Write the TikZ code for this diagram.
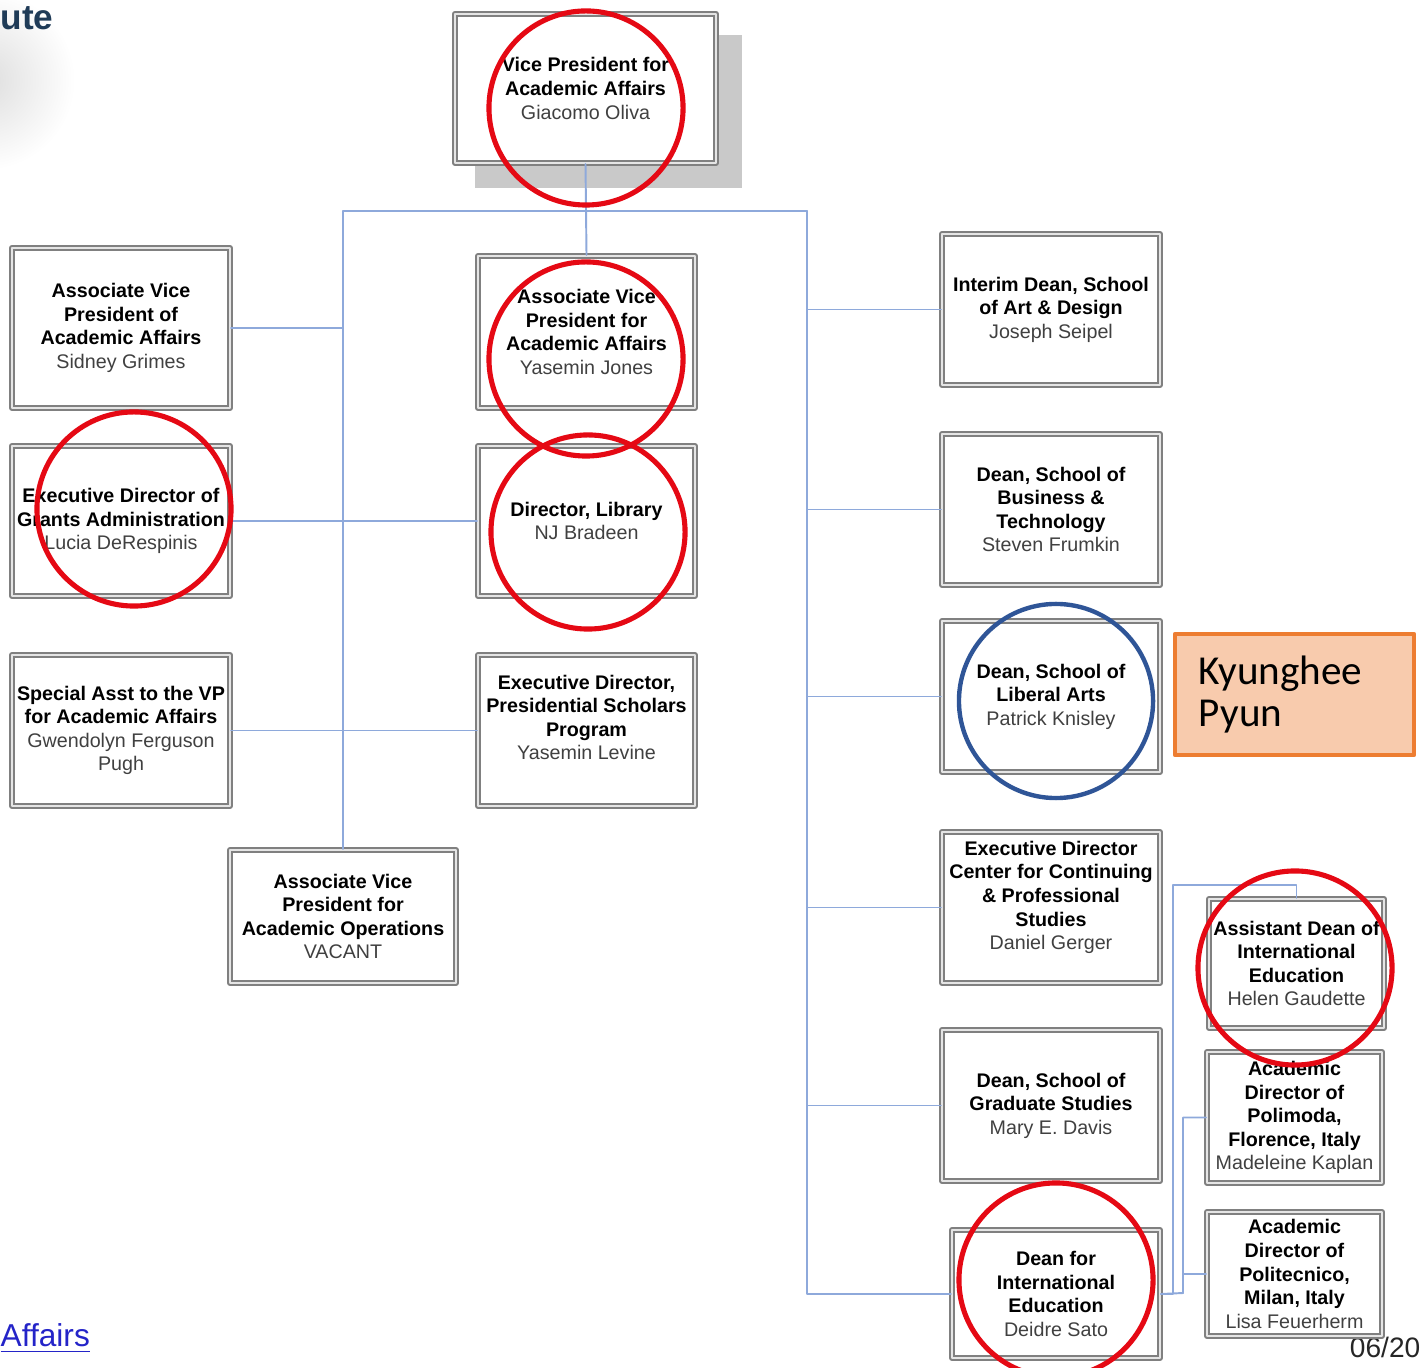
\documentclass[tikz,border=0pt]{standalone}
\usepackage{fontspec}
\setmainfont{Liberation Sans}
\newfontfamily\calloutfont{Carlito}
\definecolor{linkblue}{HTML}{8EA9DB}
\definecolor{ringred}{HTML}{E50914}
\definecolor{ringblue}{HTML}{2F5597}
\definecolor{noteline}{HTML}{ED7D31}
\definecolor{notefill}{HTML}{F8CBAD}
\definecolor{boxgray}{HTML}{808080}
\definecolor{namegray}{HTML}{404040}
\definecolor{shadowgray}{HTML}{C9C9C9}
\definecolor{webblue}{HTML}{2424C8}
\definecolor{titleslate}{HTML}{1F3B57}
\newcommand\pname[1]{{\mdseries\color{namegray}#1}}

\begin{document}
\begin{tikzpicture}[x=0.01cm,y=-0.01cm,line cap=round,line join=round,
  post/.style={draw=boxgray,double=white!80!gray,double distance=0.6pt,line width=0.55pt,
    fill=white,inner sep=0pt,align=center,font=\fontsize{5.6}{6.7}\selectfont\bfseries},
  link/.style={draw=linkblue,line width=0.55pt},
  ring/.style={draw=ringred,line width=1.45pt},
  bluering/.style={draw=ringblue,line width=1.25pt}]
\useasboundingbox (0,0) rectangle (1422,1368);
\clip (0,0) rectangle (1422,1368);

% page leftovers
\shade[inner color=black!13,outer color=white] (-15,80) circle [radius=0.9cm];
\node[anchor=north west,inner sep=0pt,text=titleslate,font=\bfseries\fontsize{10}{12}\selectfont] (ute) at (0,6) {ute};
\node[anchor=base west,inner sep=0pt,text=webblue,font=\fontsize{9}{10}\selectfont] (affairs) at (0,1346) {\underline{Affairs}};
\node[anchor=base east,inner sep=0pt,text=black!85,font=\fontsize{8}{9}\selectfont] (date) at (1421,1357) {06/20};

% top
\fill[shadowgray] (475,35) rectangle (742,188);
\node[post,minimum width=2.61cm,minimum height=1.49cm] (vp) at (585.5,88.5) {Vice President for\\Academic Affairs\\\pname{Giacomo Oliva}};

% left column
\node[post,minimum width=2.18cm,minimum height=1.60cm] (avpg) at (121,328) {Associate Vice\\President of\\Academic Affairs\\\pname{Sidney Grimes}};
\node[post,minimum width=2.18cm,minimum height=1.50cm] (grants) at (121,521) {Executive Director of\\Grants Administration\\\pname{Lucia DeRespinis}};
\node[post,minimum width=2.18cm,minimum height=1.51cm] (spec) at (121,730.5) {Special Asst to the VP\\for Academic Affairs\\\pname{Gwendolyn Ferguson}\\\pname{Pugh}};
\node[post,minimum width=2.26cm,minimum height=1.33cm] (avpo) at (343,916.5) {Associate Vice\\President for\\Academic Operations\\\pname{VACANT}};

% middle column
\node[post,minimum width=2.17cm,minimum height=1.52cm] (avpj) at (586.5,332) {Associate Vice\\President for\\Academic Affairs\\\pname{Yasemin Jones}};
\node[post,minimum width=2.17cm,minimum height=1.50cm] (lib) at (586.5,521) {Director, Library\\\pname{NJ Bradeen}};
\node[post,minimum width=2.17cm,minimum height=1.51cm,text depth=7.4pt] (pres) at (586.5,730.5) {Executive Director,\\Presidential Scholars\\Program\\\pname{Yasemin Levine}};

% right column
\node[post,minimum width=2.18cm,minimum height=1.51cm] (art) at (1051,309.5) {Interim Dean, School\\of Art \& Design\\\pname{Joseph Seipel}};
\node[post,minimum width=2.18cm,minimum height=1.51cm] (busi) at (1051,509.5) {Dean, School of\\Business \&\\Technology\\\pname{Steven Frumkin}};
\node[post,minimum width=2.18cm,minimum height=1.51cm] (libarts) at (1051,696.5) {Dean, School of\\Liberal Arts\\\pname{Patrick Knisley}};
\node[post,minimum width=2.18cm,minimum height=1.51cm,text depth=6.9pt] (cps) at (1051,907.5) {Executive Director\\Center for Continuing\\\& Professional\\Studies\\\pname{Daniel Gerger}};
\node[post,minimum width=2.18cm,minimum height=1.51cm] (grad) at (1051,1105.5) {Dean, School of\\Graduate Studies\\\pname{Mary E. Davis}};
\node[post,minimum width=2.08cm,minimum height=1.28cm] (dintl) at (1056,1294) {Dean for\\International\\Education\\\pname{Deidre Sato}};

% international
\node[post,minimum width=1.75cm,minimum height=1.29cm] (asst) at (1296.5,963.5) {Assistant Dean of\\International\\Education\\\pname{Helen Gaudette}};
\node[post,minimum width=1.75cm,minimum height=1.31cm] (polim) at (1294.5,1117.5) {Academic\\Director of\\Polimoda,\\Florence, Italy\\\pname{Madeleine Kaplan}};
\node[post,minimum width=1.75cm,minimum height=1.24cm] (polit) at (1294.5,1274) {Academic\\Director of\\Politecnico,\\Milan, Italy\\\pname{Lisa Feuerherm}};

% connectors
\coordinate (busL) at (343,211);
\coordinate (busR) at (807,211);
\coordinate (jogA) at (1173,885);
\coordinate (jogB) at (1183,1293);
\draw[link] (vp.south) -- (avpj.north);
\draw[link] (busL) -- (busR);
\draw[link] (busL) -- (avpo.north);
\draw[link] (busR) -- (busR |- dintl.west) -- (dintl.west);
\draw[link] (avpg.east) -- (avpg.east -| busL);
\draw[link] (grants.east) -- (lib.west);
\draw[link] (spec.east) -- (pres.west);
\foreach \n in {art,busi,libarts,cps,grad}
  \draw[link] (busR |- \n.west) -- (\n.west);
\draw[link] (dintl.east) -| (jogA) -| (asst.north);
\draw[link] (dintl.east) -- (jogB) |- (polim.west);
\draw[link] (jogB) |- (polit.west);

% marks
\draw[ring] (586,108) circle [radius=0.97cm];
\draw[ring] (586,359) circle [radius=0.97cm];
\draw[ring] (588,532) circle [radius=0.97cm];
\draw[ring] (134,509) circle [radius=0.97cm];
\draw[ring] (1295,968) circle [radius=0.97cm];
\draw[ring] (1056,1280) circle [radius=0.97cm];
\draw[bluering] (1056,701) circle [radius=0.97cm];

% callout
\node[draw=noteline,fill=notefill,line width=1.2pt,minimum width=2.39cm,minimum height=1.21cm,
  inner xsep=0.22cm,inner ysep=0pt,text width=1.91cm,align=left,
  font=\calloutfont\fontsize{11.7}{12.2}\selectfont] (kp) at (1294.5,694.5) {Kyunghee\\Pyun};
\end{tikzpicture}
\end{document}
